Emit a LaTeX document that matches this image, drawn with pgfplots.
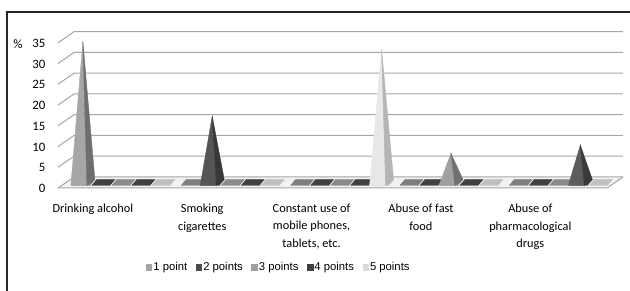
\documentclass[border=0pt]{standalone}
\usepackage{fontspec}
\setmainfont{Carlito}
\newfontfamily\legfont{Liberation Sans}
\usepackage{pgfplots}
\pgfplotsset{compat=1.18}
\definecolor{gridc}{HTML}{A6A6A6}
\definecolor{fA}{HTML}{7F7F7F}\definecolor{pA}{HTML}{A6A6A6}\definecolor{sA}{HTML}{6E6E6E}\definecolor{lA}{HTML}{A6A6A6}
\definecolor{fB}{HTML}{404040}\definecolor{pB}{HTML}{555555}\definecolor{sB}{HTML}{383838}\definecolor{lB}{HTML}{4D4D4D}
\definecolor{fC}{HTML}{8A8A8A}\definecolor{pC}{HTML}{A0A0A0}\definecolor{sC}{HTML}{707070}\definecolor{lC}{HTML}{A0A0A0}
\definecolor{fD}{HTML}{404040}\definecolor{pD}{HTML}{5C5C5C}\definecolor{sD}{HTML}{3A3A3A}\definecolor{lD}{HTML}{404040}
\definecolor{fE}{HTML}{BFBFBF}\definecolor{pE}{HTML}{E8E8E8}\definecolor{sE}{HTML}{B5B5B5}\definecolor{lE}{HTML}{D9D9D9}
\pgfdeclareplotmark{nothing}{}
\pgfplotsset{
  pyramid/.style n args={5}{%
    scatter, only marks, mark=nothing,
    visualization depends on={rawy \as \val},
    scatter/@pre marker code/.code={%
      \fill[#2] ([xshift=#1pt-11pt,yshift=-3pt]axis direction cs:0,-\val) -- ([xshift=#1pt+7pt,yshift=-3pt]axis direction cs:0,-\val) -- ([xshift=#1pt+12pt,yshift=3pt]axis direction cs:0,-\val) -- ([xshift=#1pt-6pt,yshift=3pt]axis direction cs:0,-\val) -- cycle;
      \ifdim\val pt>0pt
        \fill[#3] ([xshift=#1pt-12pt,yshift=-3pt]axis direction cs:0,-\val) -- (#1pt,0pt) -- ([xshift=#1pt+4pt,yshift=-3pt]axis direction cs:0,-\val) -- cycle;
        \fill[#4] ([xshift=#1pt+4pt,yshift=-3pt]axis direction cs:0,-\val) -- (#1pt,0pt) -- ([xshift=#1pt+12pt,yshift=3pt]axis direction cs:0,-\val) -- cycle;
      \fi
    },
    scatter/@post marker code/.code={},
    legend image code/.code={\fill[#5] (0pt,-2.8pt) rectangle (5.6pt,2.8pt);},
  }
}
\begin{document}
\begin{tikzpicture}
\useasboundingbox (0pt,0pt) rectangle (630pt,291pt);
\draw[line width=1.3pt,black!85] (7pt,-5pt) -- (7pt,279pt) -- (640pt,279pt);
\node[font=\fontsize{12.8}{15}\selectfont, anchor=center] at (18pt,246.5pt) {\%};
\begin{axis}[
  at={(66pt,108.5pt)}, anchor=south west,
  scale only axis, width=549pt, height=145.25pt,
  xmin=-0.52, xmax=4.50, ymin=0, ymax=35,
  axis line style={draw=none}, tick style={draw=none},
  clip=false,
  ytick={0,5,...,35},
  /pgf/number format/assume math mode=true,
  yticklabel style={anchor=east, xshift=-17pt, yshift=-6pt, font=\fontsize{12.8}{15}\selectfont},
  xtick={0,1,2,3,4},
  xticklabels={{Drinking alcohol},{Smoking\\cigarettes},{Constant use of\\mobile phones,\\tablets, etc.},{Abuse of fast\\food},{Abuse of\\pharmacological\\drugs}},
  xticklabel style={align=center, anchor=north, xshift=-30pt, yshift=-18pt, font=\fontsize{12.3}{17.5}\selectfont},
  legend columns=5,
  legend style={at={(0.387,-0.582)}, anchor=center, draw=none, fill=none,
    font=\legfont\fontsize{11.3}{13}\selectfont,
    /tikz/every even column/.append style={column sep=7pt},
    nodes={inner xsep=1.5pt}},
]
% floor
\fill[white!95!black] ([xshift=-8pt,yshift=-5.5pt]axis cs:-0.52,0) -- ([xshift=-8pt,yshift=-5.5pt]axis cs:4.5,0) -- ([xshift=8pt,yshift=5.5pt]axis cs:4.5,0) -- ([xshift=8pt,yshift=5.5pt]axis cs:-0.52,0) -- cycle;
\draw[gridc, line width=1pt] ([xshift=-8pt,yshift=-5.5pt]axis cs:-0.52,0) -- ([xshift=-8pt,yshift=-5.5pt]axis cs:4.5,0) -- ([xshift=8pt,yshift=5.5pt]axis cs:4.5,0);
\pgfplotsinvokeforeach{0,5,...,35}{
  \draw[gridc, line width=1pt] ([xshift=-8pt,yshift=-5.5pt]axis cs:-0.52,#1) -- ([xshift=8pt,yshift=5.5pt]axis cs:-0.52,#1) -- ([xshift=8pt,yshift=5.5pt]axis cs:4.5,#1);
}
\addplot[pyramid={-40}{fA}{pA}{sA}{lA}] coordinates {(0,34) (1,0) (2,0) (3,0) (4,0)};
\addlegendentry{1 point}
\addplot[pyramid={-20}{fB}{pB}{sB}{lB}] coordinates {(0,0) (1,16) (2,0) (3,0) (4,0)};
\addlegendentry{2 points}
\addplot[pyramid={0}{fC}{pC}{sC}{lC}] coordinates {(0,0) (1,0) (2,0) (3,7) (4,0)};
\addlegendentry{3 points}
\addplot[pyramid={20}{fD}{pD}{sD}{lD}] coordinates {(0,0) (1,0) (2,0) (3,0) (4,9)};
\addlegendentry{4 points}
\addplot[pyramid={40}{fE}{pE}{sE}{lE}] coordinates {(0,0) (1,0) (2,32) (3,0) (4,0)};
\addlegendentry{5 points}
\end{axis}
\end{tikzpicture}
\end{document}
